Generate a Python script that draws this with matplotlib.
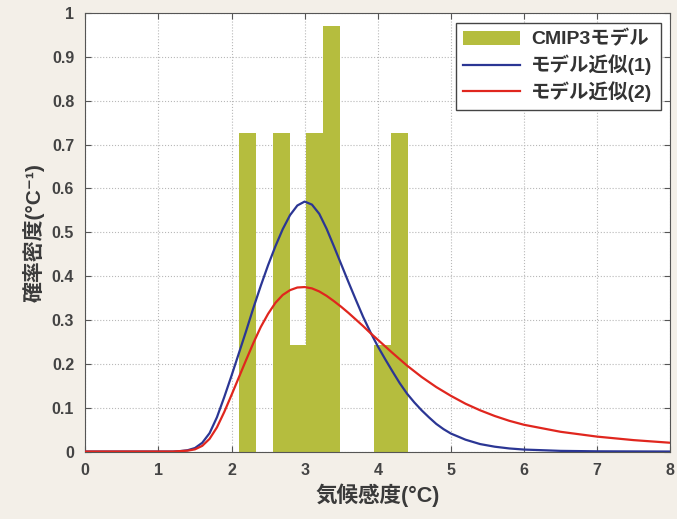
import numpy as np
import matplotlib.pyplot as plt

plt.rcParams['font.family'] = ['Liberation Sans', 'Noto Sans CJK JP', 'DejaVu Sans']

# histogram of CMIP3 model climate sensitivity
bin_edges = [2.10, 2.331, 2.562, 2.793, 3.024, 3.255, 3.486, 3.717, 3.948, 4.179, 4.41]
density = [0.727, 0.0, 0.727, 0.242, 0.727, 0.97, 0.0, 0.0, 0.242, 0.727]

# fitted curves
x_fit1 = [0.0, 1.0, 1.2, 1.3, 1.4, 1.5, 1.6, 1.7, 1.8, 1.9, 2.0, 2.1, 2.2, 2.3, 2.4, 2.5,
          2.6, 2.7, 2.8, 2.9, 3.0, 3.1, 3.2, 3.3, 3.4, 3.5, 3.6, 3.7, 3.8, 3.9, 4.0,
          4.1, 4.2, 4.3, 4.4, 4.5, 4.6, 4.7, 4.8, 4.9, 5.0, 5.2, 5.4, 5.6, 5.8, 6.0,
          6.5, 7.0, 8.0]
fit1 = [0.0, 0.0, 0.0, 0.001, 0.003, 0.008, 0.02, 0.042, 0.078, 0.124, 0.173, 0.224,
        0.275, 0.328, 0.378, 0.425, 0.468, 0.507, 0.539, 0.561, 0.57, 0.563, 0.542, 0.508,
        0.468, 0.427, 0.386, 0.346, 0.307, 0.272, 0.24, 0.211, 0.183, 0.156, 0.132,
        0.112, 0.094, 0.078, 0.063, 0.051, 0.041, 0.027, 0.017, 0.011, 0.007, 0.0045,
        0.0015, 0.0005, 0.0]

x_fit2 = [0.0, 1.0, 1.2, 1.3, 1.4, 1.5, 1.6, 1.7, 1.8, 1.9, 2.0, 2.1, 2.2, 2.3, 2.4, 2.5,
          2.6, 2.7, 2.8, 2.9, 3.0, 3.1, 3.2, 3.3, 3.4, 3.5, 3.6, 3.7, 3.8, 3.9, 4.0,
          4.2, 4.4, 4.6, 4.8, 5.0, 5.2, 5.4, 5.6, 5.8, 6.0, 6.5, 7.0, 7.5, 8.0]
fit2 = [0.0, 0.0, 0.0, 0.001, 0.002, 0.005, 0.013, 0.029, 0.055, 0.09, 0.129, 0.169,
        0.209, 0.248, 0.284, 0.314, 0.339, 0.357, 0.368, 0.374, 0.375, 0.372, 0.365,
        0.355, 0.343, 0.33, 0.316, 0.301, 0.286, 0.27, 0.255, 0.225, 0.196, 0.17,
        0.147, 0.127, 0.109, 0.094, 0.081, 0.07, 0.061, 0.045, 0.034, 0.026, 0.02]

x_ticks = [0, 1, 2, 3, 4, 5, 6, 7, 8]
y_ticks = [0, 0.1, 0.2, 0.3, 0.4, 0.5, 0.6, 0.7, 0.8, 0.9, 1]
y_ticklabels = ['0', '0.1', '0.2', '0.3', '0.4', '0.5', '0.6', '0.7', '0.8', '0.9', '1']

bg = '#f3efe8'
fig = plt.figure(figsize=(6.77, 5.19), dpi=100, facecolor=bg)
ax = fig.add_axes([0.126, 0.130, 0.864, 0.845])

widths = np.diff(bin_edges)
bars = ax.bar(bin_edges[:-1], density, width=widths, align='edge', color='#b5bd3e',
              edgecolor='none', zorder=2)
l1, = ax.plot(x_fit1, fit1, color='#2b3694', lw=1.6, zorder=3)
l2, = ax.plot(x_fit2, fit2, color='#e0261e', lw=1.6, zorder=3)

ax.set_xlim(0, 8)
ax.set_ylim(0, 1)
ax.set_xticks(x_ticks)
ax.set_yticks(y_ticks)
ax.set_yticklabels(y_ticklabels)
ax.tick_params(direction='in', top=True, right=True, length=4, colors='#555555',
               labelcolor='#444444', labelsize=11.5)
ax.tick_params(axis='x', pad=8)
ax.tick_params(axis='y', pad=8)
for lab in ax.get_xticklabels() + ax.get_yticklabels():
    lab.set_fontweight('bold')
ax.grid(True, linestyle=':', color='#b8b8b8', lw=0.8)
ax.set_axisbelow(True)
for s in ax.spines.values():
    s.set_color('#555555')

ax.set_xlabel('気候感度(°C)', fontsize=15.5, color='#3a3a3a', labelpad=4, fontweight='bold')
ax.set_ylabel('確率密度(°C⁻¹)', fontsize=15, color='#3a3a3a', labelpad=5,
              fontweight='bold')

leg = ax.legend([bars, l1, l2], ['CMIP3モデル', 'モデル近似(1)', 'モデル近似(2)'],
                loc='upper right', fancybox=False, edgecolor='#444444',
                framealpha=1, borderaxespad=0.5, handlelength=2.9, labelspacing=0.3,
                handletextpad=0.6, prop={'weight': 'bold', 'size': 14})
for t in leg.get_texts():
    t.set_color('#333333')

plt.savefig('out.png', dpi=100, facecolor=bg)
